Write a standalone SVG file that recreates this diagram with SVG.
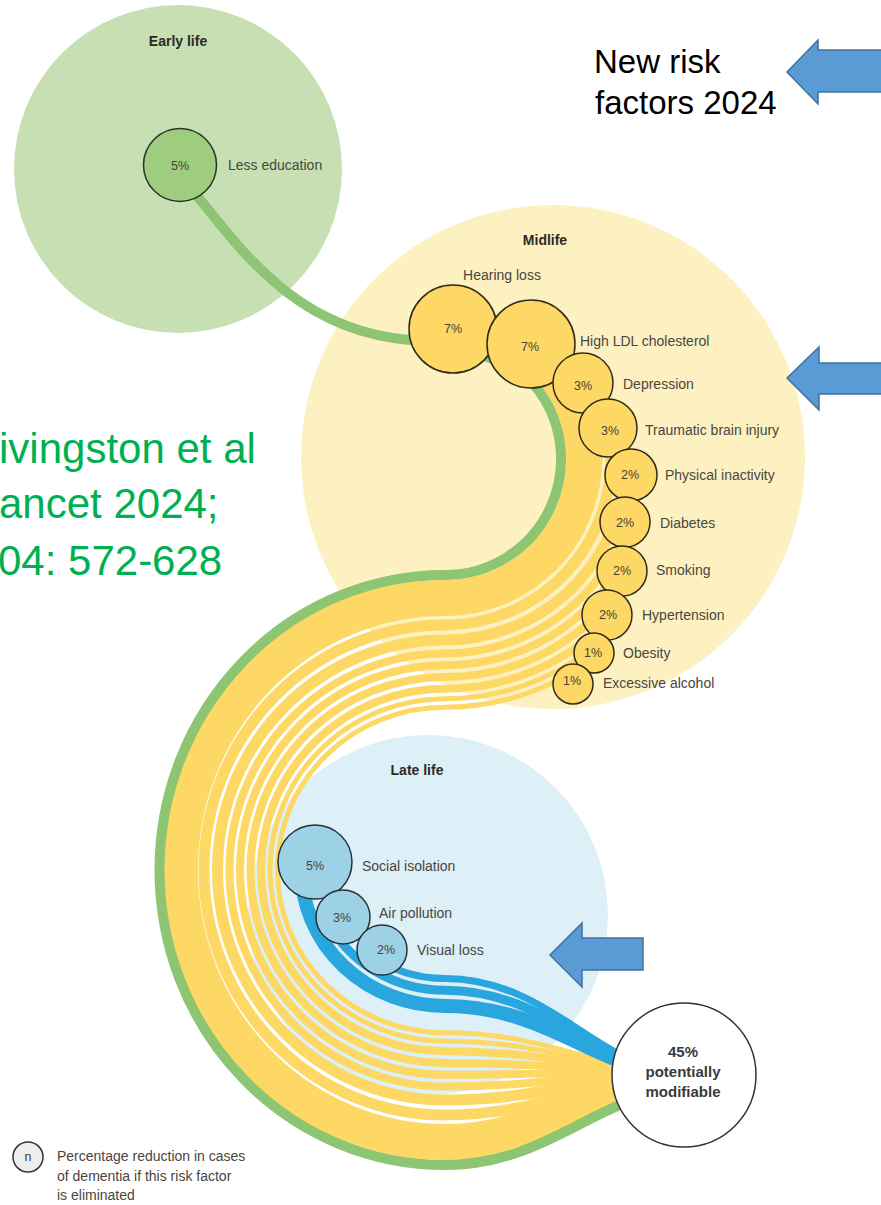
<svg xmlns="http://www.w3.org/2000/svg" width="881" height="1205" viewBox="0 0 881 1205">
<style>
.lbl{font-family:"Liberation Sans",Arial,sans-serif;font-size:14px;fill:#4a4540}
.pct{font-family:"Liberation Sans",Arial,sans-serif;font-size:12.5px;fill:#4a4036;text-anchor:middle}
.ttl{font-family:"Liberation Sans",Arial,sans-serif;font-size:14px;font-weight:bold;fill:#2d2a26;text-anchor:middle}
.yc{fill:#fdd865;stroke:#2f2a1c;stroke-width:1.5}
.bc{fill:#9dd1e5;stroke:#24343c;stroke-width:1.5}
.rib{fill:none;stroke-linecap:butt}
.y{stroke:#fdd865}
.b{stroke:#29a6de}
.arrow{fill:#5b9bd5;stroke:#41719c;stroke-width:1.5}
.cite{font-family:"Liberation Sans",Arial,sans-serif;font-size:42px;fill:#00b050}
.note{font-family:"Liberation Sans",Arial,sans-serif;font-size:33px;fill:#000}
.big{font-family:"Liberation Sans",Arial,sans-serif;font-size:15px;font-weight:bold;fill:#3a3a3a;text-anchor:middle}
</style>
<rect width="881" height="1205" fill="#ffffff"/>

<g id="zone-early-life"><circle cx="178" cy="169" r="164" fill="#c6e0b4"/></g>
<g id="zone-midlife"><circle cx="553" cy="457" r="252" fill="#fdf1c2"/></g>
<g id="zone-late-life"><circle cx="428" cy="915" r="180" fill="#ddeff7"/></g>

<g id="connectors">
<path class="rib y" stroke-width="36" d="M 528.3 347.7 A 139 139 0 0 1 445 598 A 265 272 0 0 0 180 870 A 265 272 0 0 0 445 1142 C 525 1142 575 1102.8 625 1086"/>
<path class="rib y" stroke-width="11" d="M 590.3 379 A 165.9 165.9 0 0 1 445 624.9 A 241 245.1 0 0 0 204 870 A 241 245.1 0 0 0 445 1115.1 C 525 1115.1 575 1089.8 625 1079"/>
<path class="rib y" stroke-width="11" d="M 622.8 425.1 A 181 181 0 0 1 445 640 A 227.5 230 0 0 0 217.5 870 A 227.5 230 0 0 0 445 1100 C 525 1100 575 1083.2 625 1076"/>
<path class="rib y" stroke-width="8" d="M 638.7 475.6 A 194.4 194.4 0 0 1 445 653.4 A 215.5 216.6 0 0 0 229.5 870 A 215.5 216.6 0 0 0 445 1086.6 C 525 1086.6 575 1077.4 625 1073.5"/>
<path class="rib y" stroke-width="8" d="M 639.6 527.1 A 206.2 206.2 0 0 1 445 665.2 A 205 204.8 0 0 0 240 870 A 205 204.8 0 0 0 445 1074.8 C 525 1074.8 575 1072.5 625 1071.5"/>
<path class="rib y" stroke-width="8" d="M 629.2 575.5 A 218 218 0 0 1 445 677 A 194.5 193 0 0 0 250.5 870 A 194.5 193 0 0 0 445 1063 C 525 1063 575 1067.9 625 1070"/>
<path class="rib y" stroke-width="8" d="M 610.5 618.3 A 229.7 229.7 0 0 1 445 688.7 A 184 181.3 0 0 0 261 870 A 184 181.3 0 0 0 445 1051.3 C 525 1051.3 575 1063.3 625 1068.5"/>
<path class="rib y" stroke-width="5" d="M 591 649.3 A 239.8 239.8 0 0 1 445 698.8 A 175 171.2 0 0 0 270 870 A 175 171.2 0 0 0 445 1041.2 C 525 1041.2 575 1059.3 625 1067"/>
<path class="rib y" stroke-width="5" d="M 567.6 674.8 A 248.2 248.2 0 0 1 445 707.2 A 167.5 162.8 0 0 0 277.5 870 A 167.5 162.8 0 0 0 445 1032.8 C 525 1032.8 575 1056 625 1066"/>
<path class="rib" stroke="#8dc572" stroke-width="10" d="M 192 190 C 235 240 290 330 410 340 C 450 343.3 513 360 533.9 384.4 A 116 116 0 0 1 445 575 A 285.5 295 0 0 0 159.5 870 A 285.5 295 0 0 0 445 1165 C 525 1165 575 1121.6 625 1103"/>
<path class="rib b" stroke-width="14" d="M 301.5 870 A 143.5 135.9 0 0 0 445 1005.9 C 525 1005.9 575 1045.9 625 1063"/>
<path class="rib b" stroke-width="9" d="M 327.6 920.8 A 129.5 120.2 0 0 0 445 990.2 C 525 990.2 575 1039.1 625 1060"/>
<path class="rib b" stroke-width="7" d="M 368.5 953.1 A 119 108.5 0 0 0 445 978.5 C 525 978.5 575 1033.4 625 1057"/>
</g>

<g id="node-less-education"><circle cx="180" cy="165" r="36.5" fill="#9fcd80" stroke="#2a3325" stroke-width="1.5"/><text class="pct" x="180" y="170">5%</text><text class="lbl" x="228" y="170">Less education</text></g>
<g id="node-hearing-loss"><circle class="yc" cx="453" cy="329" r="44"/><text class="pct" x="453" y="333">7%</text><text class="lbl" x="502" y="280" text-anchor="middle">Hearing loss</text></g>
<g id="node-ldl"><circle class="yc" cx="531" cy="344" r="44"/><text class="pct" x="530" y="351">7%</text><text class="lbl" x="580" y="346">High LDL cholesterol</text></g>
<g id="node-depression"><circle class="yc" cx="583" cy="383" r="30"/><text class="pct" x="583" y="390">3%</text><text class="lbl" x="623" y="389">Depression</text></g>
<g id="node-tbi"><circle class="yc" cx="608" cy="428" r="29"/><text class="pct" x="610" y="435">3%</text><text class="lbl" x="645" y="435">Traumatic brain injury</text></g>
<g id="node-physical-inactivity"><circle class="yc" cx="631" cy="475" r="26"/><text class="pct" x="630" y="479">2%</text><text class="lbl" x="665" y="480">Physical inactivity</text></g>
<g id="node-diabetes"><circle class="yc" cx="625" cy="522" r="25"/><text class="pct" x="625" y="527">2%</text><text class="lbl" x="660" y="528">Diabetes</text></g>
<g id="node-smoking"><circle class="yc" cx="622" cy="571" r="25"/><text class="pct" x="622" y="575">2%</text><text class="lbl" x="656" y="575">Smoking</text></g>
<g id="node-hypertension"><circle class="yc" cx="607" cy="615" r="25"/><text class="pct" x="608" y="619">2%</text><text class="lbl" x="642" y="620">Hypertension</text></g>
<g id="node-obesity"><circle class="yc" cx="594" cy="653" r="20"/><text class="pct" x="593" y="657">1%</text><text class="lbl" x="623" y="658">Obesity</text></g>
<g id="node-alcohol"><circle class="yc" cx="573" cy="684" r="20"/><text class="pct" x="572" y="685">1%</text><text class="lbl" x="603" y="688">Excessive alcohol</text></g>

<g id="node-social-isolation"><circle class="bc" cx="315" cy="862" r="37"/><text class="pct" x="315" y="870">5%</text><text class="lbl" x="362" y="871">Social isolation</text></g>
<g id="node-air-pollution"><circle class="bc" cx="343" cy="917" r="27"/><text class="pct" x="342" y="922">3%</text><text class="lbl" x="379" y="918">Air pollution</text></g>
<g id="node-visual-loss"><circle class="bc" cx="382" cy="950" r="25"/><text class="pct" x="386" y="954">2%</text><text class="lbl" x="417" y="955">Visual loss</text></g>

<g id="node-total"><circle cx="684" cy="1075" r="72" fill="#ffffff" stroke="#333333" stroke-width="1.5"/><text class="big" x="683" y="1057">45%</text><text class="big" x="683" y="1077">potentially</text><text class="big" x="683" y="1097">modifiable</text></g>

<g id="titles">
<text class="ttl" x="178" y="46">Early life</text>
<text class="ttl" x="545" y="245">Midlife</text>
<text class="ttl" x="417" y="775">Late life</text>
</g>

<g id="legend"><circle cx="28" cy="1157" r="15" fill="#eeeeee" stroke="#333333" stroke-width="1.5"/><text class="pct" x="28" y="1161" font-size="12">n</text>
<text class="lbl" x="57" y="1161" font-size="13.5">Percentage reduction in cases</text>
<text class="lbl" x="57" y="1181" font-size="13.5">of dementia if this risk factor</text>
<text class="lbl" x="57" y="1200" font-size="13.5">is eliminated</text></g>

<g id="citation">
<text class="cite" x="-1" y="463">ivingston et al</text>
<text class="cite" x="-1" y="518">ancet 2024;</text>
<text class="cite" x="-2" y="575">04: 572-628</text>
</g>

<g id="note"><text class="note" x="594" y="73">New risk</text><text class="note" x="595" y="114">factors 2024</text></g>

<g id="arrows">
<polygon class="arrow" points="787,72 818,40 818,50 886,50 886,92 818,92 818,104"/>
<polygon class="arrow" points="787,378 819,347 819,363 886,363 886,394 819,394 819,410"/>
<polygon class="arrow" points="550,955 582,923 582,938 643,938 643,970 582,970 582,987"/>
</g>
</svg>
